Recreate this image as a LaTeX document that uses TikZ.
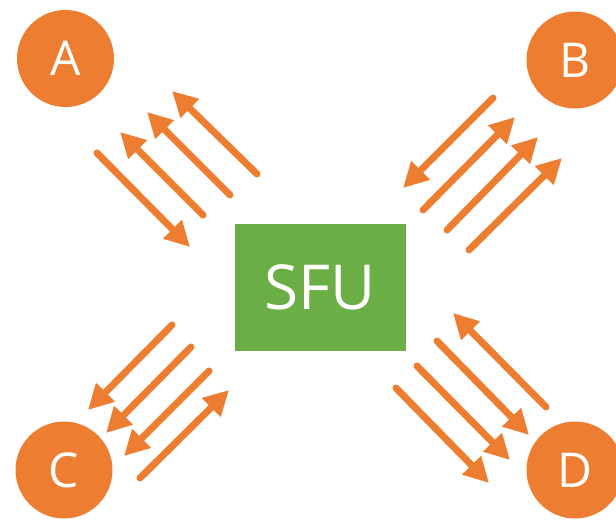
\documentclass[tikz,border=0pt]{standalone}
\usepackage{fontspec}
\setmainfont{Open Sans}
\usetikzlibrary{arrows.meta}
\definecolor{orng}{HTML}{ED7D31}
\definecolor{grn}{HTML}{6AAE45}
\begin{document}
\begin{tikzpicture}[x=1pt,y=-1pt,
  peer/.style={circle,fill=orng,minimum size=97pt,inner sep=0pt,text=white,font=\fontsize{48}{48}\selectfont},
  server/.style={rectangle,fill=grn,minimum width=171pt,minimum height=127pt,inner sep=0pt,text=white,font=\fontsize{62}{62}\selectfont},
  flow/.style={draw=orng,line width=7pt,line cap=round,-{Triangle[length=25pt,width=25pt]}}]
\useasboundingbox (0,0) rectangle (616,520);
\node[peer] (A) at (65.5,58.5) {A};
\node[peer] (B) at (575,60) {B};
\node[peer] (C) at (64,470) {C};
\node[peer] (D) at (575,470) {D};
\node[server] (S) at (320,287.5) {SFU};
% A group
\coordinate (a1t) at (97,153); \coordinate (a1h) at (190,247);
\coordinate (a2t) at (203,215); \coordinate (a2h) at (120,132);
\coordinate (a3t) at (230,195); \coordinate (a3h) at (147,112);
\coordinate (a4t) at (257,174); \coordinate (a4h) at (172,91);
% B group
\coordinate (b1t) at (493,98); \coordinate (b1h) at (403,188);
\coordinate (b2t) at (423,210); \coordinate (b2h) at (515,117);
\coordinate (b3t) at (447,230); \coordinate (b3h) at (538,137);
\coordinate (b4t) at (469,250); \coordinate (b4h) at (562,158);
% C group
\coordinate (c1t) at (172,325); \coordinate (c1h) at (88,410);
\coordinate (c2t) at (191,347); \coordinate (c2h) at (106,433);
\coordinate (c3t) at (209,371); \coordinate (c3h) at (124,456);
\coordinate (c4t) at (140,478); \coordinate (c4h) at (229,390);
% D group
\coordinate (d1t) at (546,407); \coordinate (d1h) at (453,313);
\coordinate (d2t) at (437,341); \coordinate (d2h) at (529,435);
\coordinate (d3t) at (417,366); \coordinate (d3h) at (510,460);
\coordinate (d4t) at (396,388); \coordinate (d4h) at (489,483);
\foreach \g in {a,b,c,d}{
  \foreach \i in {1,2,3,4}{
    \draw[flow] (\g\i t) -- (\g\i h);
  }
}
\end{tikzpicture}
\end{document}
